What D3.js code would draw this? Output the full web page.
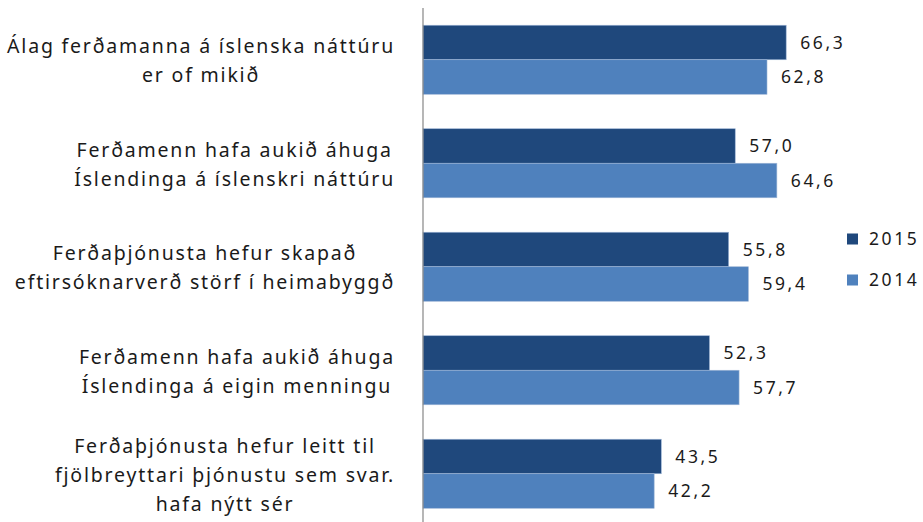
<!DOCTYPE html>
<html>
<head>
<meta charset="utf-8">
<script src="https://cdn.jsdelivr.net/npm/d3@7"></script>
<style>
  body { margin: 0; background: #fff; }
  text { font-family: "Noto Sans", "Open Sans", sans-serif; fill: #1a1a1a; }
</style>
</head>
<body>
<svg id="chart" width="923" height="522"></svg>
<script>
// categories, each one split into its wrapped lines
const categories = [
  ['Álag ferðamanna á íslenska náttúru', 'er of mikið'],
  ['Ferðamenn hafa aukið áhuga', 'Íslendinga á íslenskri náttúru'],
  ['Ferðaþjónusta hefur skapað', 'eftirsóknarverð störf í heimabyggð'],
  ['Ferðamenn hafa aukið áhuga', 'Íslendinga á eigin menningu'],
  ['Ferðaþjónusta hefur leitt til', 'fjölbreyttari þjónustu sem svar.', 'hafa nýtt sér']
];
const series = ['2015', '2014'];
const values2015 = [66.3, 57.0, 55.8, 52.3, 43.5];
const values2014 = [62.8, 64.6, 59.4, 57.7, 42.2];
const colors = ['#1f487c', '#4f81bd'];

const svg = d3.select('#chart');
const fmt = v => d3.format('.1f')(v).replace('.', ',');

const x = d3.scaleLinear().domain([0, 90]).range([423, 916]);
const y = d3.scaleBand().domain(d3.range(categories.length)).range([8, 525.5]).paddingInner(0.333).paddingOuter(0.1665);
const ySub = d3.scaleBand().domain(series).range([0, y.bandwidth()]);

const rows = categories.map((c, i) => ({i, vals: [values2015[i], values2014[i]]}));

const g = svg.selectAll('.grp').data(rows).enter().append('g')
  .attr('class', 'grp')
  .attr('transform', d => `translate(0,${y(d.i)})`);

g.selectAll('rect').data(d => d.vals.map((v, k) => ({v, k}))).enter().append('rect')
  .attr('x', x(0))
  .attr('y', d => ySub(series[d.k]))
  .attr('width', d => x(d.v) - x(0))
  .attr('height', ySub.bandwidth())
  .attr('fill', d => colors[d.k])
  .attr('stroke', '#9db5d6').attr('stroke-width', 0.6);

g.selectAll('.val').data(d => d.vals.map((v, k) => ({v, k}))).enter().append('text')
  .attr('class', 'val')
  .attr('x', d => x(d.v) + 14)
  .attr('y', d => ySub(series[d.k]) + ySub.bandwidth() / 2)
  .attr('dy', '0.36em')
  .attr('font-size', 17.5)
  .attr('letter-spacing', 2.6)
  .text(d => fmt(d.v));

// category labels: lines centred in a block that is right-aligned near the axis
const lineH = 29;
svg.selectAll('.cat').data(categories).enter().append('text')
  .attr('class', 'cat')
  .attr('font-size', 19.5)
  .attr('letter-spacing', 1.8)
  .each(function(lines, i){
    const t = d3.select(this);
    const cy = y(i) + y.bandwidth() / 2 + 1;
    const y0 = cy - (lines.length - 1) * lineH / 2;
    const spans = lines.map((l, k) => t.append('tspan').attr('y', y0 + k * lineH).attr('dy', '0.35em').text(l));
    const w = d3.max(spans, s => s.node().getComputedTextLength());
    const cx = 395 - w / 2;
    spans.forEach(s => s.attr('x', cx).attr('text-anchor', 'middle'));
  });

// axis line
svg.append('line')
  .attr('x1', x(0)).attr('x2', x(0))
  .attr('y1', 8).attr('y2', 522)
  .attr('stroke', '#868686').attr('stroke-width', 1.2);

// legend
const leg = svg.selectAll('.leg').data(series).enter().append('g')
  .attr('class', 'leg')
  .attr('transform', (d, i) => `translate(847,${239 + i * 41})`);
leg.append('rect').attr('x', 0).attr('y', -5.5).attr('width', 11).attr('height', 11)
  .attr('fill', (d, i) => colors[i]);
leg.append('text').attr('x', 22).attr('dy', '0.36em').attr('font-size', 17.5)
  .attr('letter-spacing', 2.6).text(d => d);
</script>
</body>
</html>
